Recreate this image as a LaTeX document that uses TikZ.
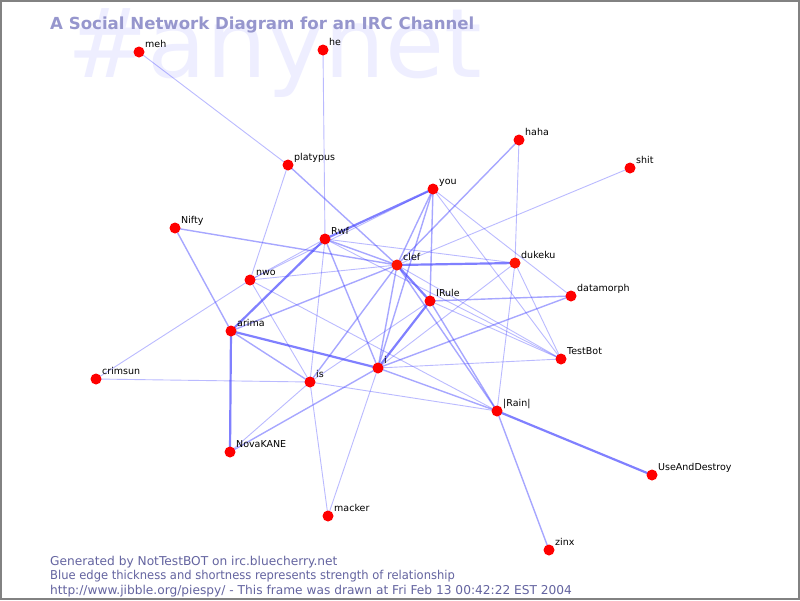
\documentclass[tikz,border=0pt]{standalone}
\usepackage{fontspec}
\setmainfont{DejaVu Sans}
\definecolor{edgeblue}{RGB}{60,60,255}
\definecolor{titlec}{RGB}{150,150,205}
\definecolor{wmc}{RGB}{238,238,255}
\definecolor{footc}{RGB}{100,100,160}
\definecolor{framec}{RGB}{130,130,130}
\pgfdeclarelayer{paper}
\pgfdeclarelayer{edges}
\pgfsetlayers{paper,edges,main}
\begin{document}
\begin{tikzpicture}[x=1pt,y=-1pt,
  dot/.style={circle,fill=red,inner sep=0pt,minimum size=11pt},
  odot/.style={circle,fill=red!85!orange,inner sep=0pt,minimum size=11pt},
  lab/.style={anchor=base west,inner sep=0pt,font=\fontsize{9.5}{10}\selectfont},
  foot/.style={anchor=base west,inner sep=0pt,text=footc,font=\fontsize{12.2}{13}\selectfont},
  thinE/.style={draw=edgeblue,opacity=0.35,line width=0.9pt},
  midE/.style={draw=edgeblue,opacity=0.45,line width=1.4pt},
  thickE/.style={draw=edgeblue,opacity=0.65,line width=2.2pt}]
\useasboundingbox (0,0) rectangle (800,600);
\begin{pgfonlayer}{paper}
\fill[white] (0,0) rectangle (800,600);
\draw[framec,line width=2pt] (1,1) rectangle (799,599);
\node[anchor=base west,inner sep=0pt,text=wmc,font=\fontsize{96}{96}\selectfont] (wm) at (67,77) {\#anynet};
\end{pgfonlayer}
\node[anchor=base west,inner sep=0pt,text=titlec,font=\bfseries\fontsize{16.6}{17}\selectfont] (title) at (50,29) {A Social Network Diagram for an IRC Channel};

\node[foot] (f1) at (50,565) {Generated by NotTestBOT on irc.bluecherry.net};
\node[foot] (f2) at (50,579.5) {\scalebox{0.945}[1]{Blue edge thickness and shortness represents strength of relationship}};
\node[foot] (f3) at (50,594) {http://www.jibble.org/piespy/ - This frame was drawn at Fri Feb 13 00:42:22 EST 2004};

% people
\newcommand{\person}[5][dot]{\node[#1] (#2) at (#3) {};\node[lab] (#2-l) at ([xshift=6pt,yshift=5pt]#2.center) {#5};}
\person{meh}{139,52}{}{meh}
\person{he}{323,50}{}{he}
\person{platypus}{288,165}{}{platypus}
\person{haha}{519,140}{}{haha}
\person{shit}{630,168}{}{shit}
\person{you}{433,189}{}{you}
\person{Nifty}{175,228}{}{Nifty}
\person{Rwf}{325,239}{}{Rwf}
\person[odot]{clef}{397,265}{}{clef}
\person[odot]{dukeku}{515,263}{}{dukeku}
\person{nwo}{250,280}{}{nwo}
\person{datamorph}{571,296}{}{datamorph}
\person{IRule}{430,301}{}{IRule}
\person{arima}{231,331}{}{arima}
\person{TestBot}{561,359}{}{TestBot}
\person{i}{378,368}{}{i}
\person{crimsun}{96,379}{}{crimsun}
\person{is}{310,382}{}{is}
\person{rain}{497,411}{}{|Rain|}
\person{NovaKANE}{230,452}{}{NovaKANE}
\person{UseAndDestroy}{652,475}{}{UseAndDestroy}
\person{macker}{328,516}{}{macker}
\person{zinx}{549,550}{}{zinx}

\begin{pgfonlayer}{edges}
% thick
\foreach \a/\b in {you/Rwf,Rwf/arima,arima/i,clef/IRule,IRule/i,rain/UseAndDestroy,clef/dukeku,arima/NovaKANE}
  \draw[thickE] (\a.center) -- (\b.center);
% medium
\foreach \a/\b in {platypus/clef,clef/i,clef/rain,IRule/rain,Nifty/arima,Rwf/i,you/clef,you/IRule,you/i,i/rain,i/NovaKANE,rain/zinx,IRule/datamorph,Rwf/clef,arima/is,clef/arima,Nifty/clef,datamorph/i,clef/is,haha/clef}
  \draw[midE] (\a.center) -- (\b.center);
% thin
\foreach \a/\b in {meh/platypus,he/Rwf,platypus/nwo,haha/dukeku,shit/clef,you/datamorph,you/TestBot,Rwf/is,Rwf/nwo,Rwf/TestBot,Rwf/dukeku,clef/nwo,clef/TestBot,dukeku/rain,dukeku/TestBot,dukeku/i,IRule/is,IRule/TestBot,crimsun/nwo,crimsun/is,i/macker,i/TestBot,is/NovaKANE,is/macker,is/rain,nwo/is,nwo/rain,you/nwo}
  \draw[thinE] (\a.center) -- (\b.center);
\end{pgfonlayer}
\end{tikzpicture}
\end{document}
